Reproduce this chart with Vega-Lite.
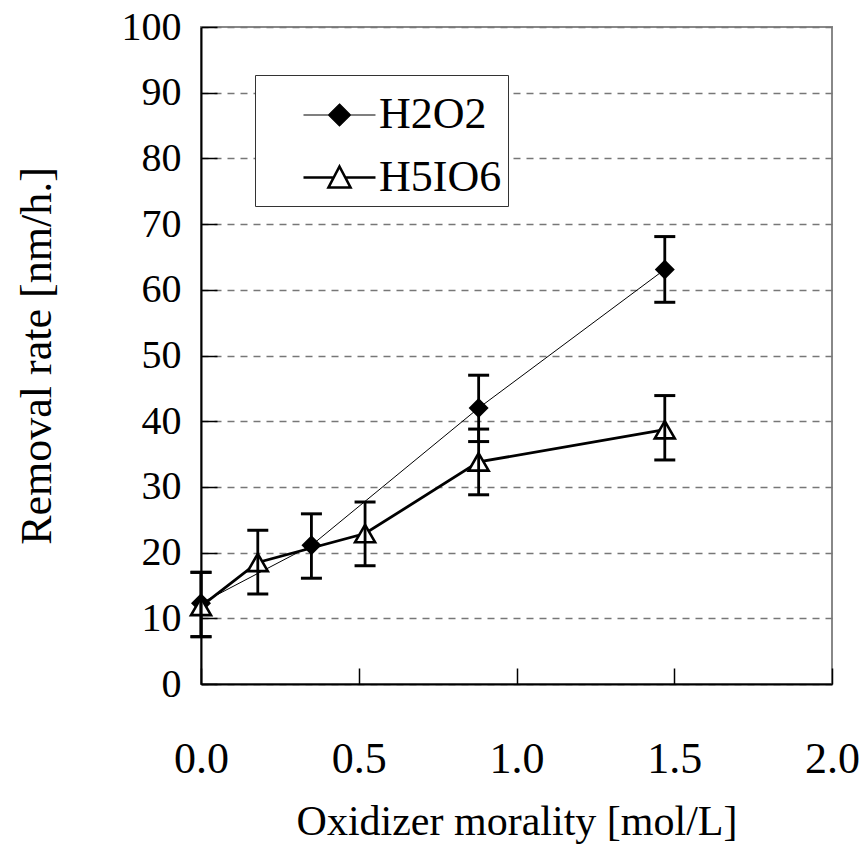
{
  "$schema": "https://vega.github.io/schema/vega-lite/v6.json",
  "width": 631,
  "height": 657,
  "autosize": {"type": "none"},
  "padding": {"left": 201, "top": 27, "right": 27, "bottom": 174},
  "background": "white",
  "config": {
    "font": "Liberation Serif",
    "view": {"stroke": "#888888", "strokeWidth": 2},
    "axis": {
      "labelColor": "black",
      "titleColor": "black",
      "titleFontWeight": "normal",
      "labelFont": "Liberation Serif",
      "titleFont": "Liberation Serif",
      "domainColor": "black",
      "domainWidth": 2,
      "tickColor": "black",
      "tickWidth": 1.5,
      "tickSize": -16,
      "labelFlush": false,
      "labelOverlap": false
    },
    "legend": {
      "orient": "none",
      "legendX": 54,
      "legendY": 48,
      "padding": 6,
      "strokeColor": "#333333",
      "fillColor": "white",
      "symbolSize": 4356,
      "labelFontSize": 44,
      "labelFont": "Liberation Serif",
      "labelColor": "black",
      "labelOffset": 49,
      "rowPadding": 6
    }
  },
  "data": {
    "values": [
      {"series": "H2O2", "x": 0.0, "y": 12.3, "lo": 7.2, "hi": 17.0},
      {"series": "H2O2", "x": 0.35, "y": 21.1, "lo": 16.1, "hi": 25.9},
      {"series": "H2O2", "x": 0.88, "y": 42.0, "lo": 36.9, "hi": 47.0},
      {"series": "H2O2", "x": 1.47, "y": 63.1, "lo": 58.1, "hi": 68.1},
      {"series": "H5IO6", "x": 0.0, "y": 11.8, "lo": 7.2, "hi": 17.0},
      {"series": "H5IO6", "x": 0.18, "y": 18.5, "lo": 13.7, "hi": 23.4},
      {"series": "H5IO6", "x": 0.52, "y": 22.9, "lo": 18.0, "hi": 27.7},
      {"series": "H5IO6", "x": 0.88, "y": 33.8, "lo": 28.8, "hi": 38.8},
      {"series": "H5IO6", "x": 1.47, "y": 38.7, "lo": 34.1, "hi": 43.9}
    ]
  },
  "encoding": {
    "x": {
      "field": "x",
      "type": "quantitative",
      "scale": {"domain": [0, 2], "nice": false, "zero": false},
      "axis": {
        "values": [0, 0.5, 1, 1.5, 2],
        "format": ".1f",
        "title": "Oxidizer morality [mol/L]",
        "grid": false,
        "labelFontSize": 44,
        "labelPadding": 69,
        "titleFontSize": 42,
        "titlePadding": 20
      }
    }
  },
  "layer": [
    {
      "transform": [{"filter": "datum.series === 'H2O2'"}],
      "mark": {"type": "line", "color": "black", "strokeWidth": 1},
      "encoding": {
        "y": {
          "field": "y",
          "type": "quantitative",
          "scale": {"domain": [0, 100], "nice": false},
          "axis": {
            "values": [0, 10, 20, 30, 40, 50, 60, 70, 80, 90, 100],
            "title": "Removal rate [nm/h.]",
            "grid": true,
            "gridColor": "#777777",
            "gridDash": [7, 6],
            "gridWidth": 1.5,
            "labelFontSize": 40,
            "labelPadding": 36,
            "titleFontSize": 44,
            "titlePadding": 62
          }
        }
      }
    },
    {
      "transform": [{"filter": "datum.series === 'H5IO6'"}],
      "mark": {"type": "line", "color": "black", "strokeWidth": 2.8},
      "encoding": {
        "y": {"field": "y", "type": "quantitative"}
      }
    },
    {
      "transform": [{"filter": "datum.series === 'H2O2'"}],
      "mark": {"type": "point", "shape": "diamond", "filled": true, "color": "black", "opacity": 1, "size": 400},
      "encoding": {
        "y": {"field": "y", "type": "quantitative"}
      }
    },
    {
      "transform": [{"filter": "datum.series === 'H5IO6'"}],
      "mark": {"type": "point", "shape": "triangle-up", "fill": "white", "stroke": "black", "strokeWidth": 2.6, "opacity": 1, "fillOpacity": 1, "size": 400},
      "encoding": {
        "y": {"field": "y", "type": "quantitative"}
      }
    },
    {
      "mark": {"type": "point", "size": 0, "opacity": 1, "fillOpacity": 1},
      "encoding": {
        "y": {"field": "y", "type": "quantitative"},
        "shape": {
          "field": "series",
          "type": "nominal",
          "scale": {
            "domain": ["H2O2", "H5IO6"],
            "range": [
              "M0.242,0L2.424,0M1.333,-0.333L1.667,0L1.333,0.333L1,0Z",
              "M0.242,0L1.16,0M1.51,0L2.424,0M1.333,-0.333L1.667,0.303L1,0.303Z"
            ]
          },
          "legend": {"title": null}
        },
        "fill": {
          "field": "series",
          "type": "nominal",
          "scale": {"domain": ["H2O2", "H5IO6"], "range": ["black", "white"]},
          "legend": {"title": null}
        },
        "stroke": {
          "field": "series",
          "type": "nominal",
          "scale": {"domain": ["H2O2", "H5IO6"], "range": ["black", "#000000"]},
          "legend": {"title": null}
        },
        "strokeWidth": {
          "field": "series",
          "type": "nominal",
          "scale": {"domain": ["H2O2", "H5IO6"], "range": [1.2, 2.6]},
          "legend": {"title": null}
        }
      }
    },
    {
      "mark": {"type": "rule", "color": "black", "strokeWidth": 2.8},
      "encoding": {
        "y": {"field": "lo", "type": "quantitative"},
        "y2": {"field": "hi"}
      }
    },
    {
      "mark": {"type": "tick", "color": "black", "orient": "horizontal", "size": 21, "thickness": 3, "opacity": 1},
      "encoding": {
        "y": {"field": "lo", "type": "quantitative"}
      }
    },
    {
      "mark": {"type": "tick", "color": "black", "orient": "horizontal", "size": 21, "thickness": 3, "opacity": 1},
      "encoding": {
        "y": {"field": "hi", "type": "quantitative"}
      }
    }
  ]
}
